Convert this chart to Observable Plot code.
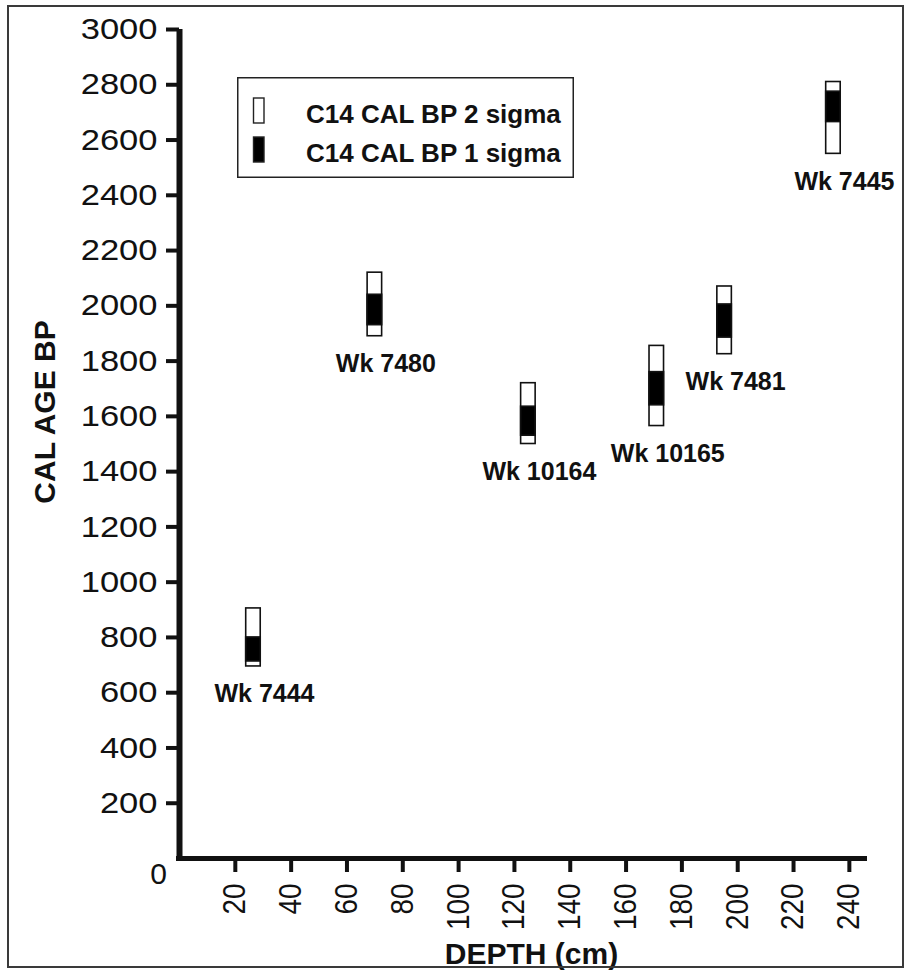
<!DOCTYPE html>
<html>
<head>
<meta charset="utf-8">
<script src="https://cdn.jsdelivr.net/npm/d3@7"></script>
<script src="https://cdn.jsdelivr.net/npm/@observablehq/plot@0.6"></script>
<style>
  html, body { margin: 0; padding: 0; background: #fff; }
  #wrap { position: relative; width: 907px; height: 973px; overflow: hidden; font-family: "Liberation Sans", Arial, sans-serif; }
  #frame { position: absolute; left: 7px; top: 5px; width: 897px; height: 963px; border: 2px solid #3a3a3a; box-sizing: border-box; pointer-events: none; }
  #legend { position: absolute; left: 237px; top: 77px; }
</style>
</head>
<body>
<div id="wrap"><div id="frame"></div></div>
<script>
// ---- data ----
const samples   = ["Wk 7444", "Wk 7480", "Wk 10164", "Wk 10165", "Wk 7481", "Wk 7445"];
const depthCm   = [26.5, 70, 125, 171, 195.3, 234.3];
const sigma2Low  = [695, 1890, 1500, 1565, 1825, 2550];
const sigma2High = [905, 2120, 1720, 1855, 2070, 2810];
const sigma1Low  = [713, 1930, 1530, 1640, 1885, 2665];
const sigma1High = [800, 2040, 1635, 1760, 2005, 2775];

const xTicks = [20, 40, 60, 80, 100, 120, 140, 160, 180, 200, 220, 240];
const yTicks = [0, 200, 400, 600, 800, 1000, 1200, 1400, 1600, 1800, 2000, 2200, 2400, 2600, 2800, 3000];
const xTitle = "DEPTH (cm)";
const yTitle = "CAL AGE BP";
const legendLabels = ["C14 CAL BP 2 sigma", "C14 CAL BP 1 sigma"];
const legendFills  = ["white", "black"];

const rows = samples.map((name, i) => ({
  name, depth: depthCm[i],
  lo2: sigma2Low[i], hi2: sigma2High[i],
  lo1: sigma1Low[i], hi1: sigma1High[i]
}));

const ink = "#111";
const halfW = 2.6; // half bar width in depth units

const chart = Plot.plot({
  width: 907,
  height: 973,
  marginLeft: 179,
  marginRight: 40,
  marginTop: 29,
  marginBottom: 115,
  style: { fontFamily: "'Liberation Sans', Arial, sans-serif", background: "transparent", color: ink },
  x: { domain: [0, 246.5] },
  y: { domain: [0, 3000] },
  marks: [
    Plot.axisX(xTicks, { tickSize: 14, tickPadding: 11, tickRotate: -90, tickFormat: d => String(d), fontSize: 31, strokeWidth: 4, stroke: ink, fill: ink, label: null }),
    Plot.axisY(yTicks.filter(v => v > 0), { tickSize: 13, tickPadding: 9, tickFormat: d => String(d), fontSize: 30, strokeWidth: 4, stroke: ink, fill: ink, label: null }),
    Plot.text(yTicks.filter(v => v === 0), { x: 0, y: d => d, text: d => String(d), dx: -21, dy: 16, fontSize: 30, fill: ink }),
    Plot.ruleX([0], { stroke: ink, strokeWidth: 6, insetBottom: -3 }),
    Plot.ruleY([0], { stroke: ink, strokeWidth: 5, insetLeft: -3 }),
    Plot.rect(rows, { x1: d => d.depth - halfW, x2: d => d.depth + halfW, y1: "lo2", y2: "hi2", fill: "white", stroke: ink, strokeWidth: 1.6 }),
    Plot.rect(rows, { x1: d => d.depth - halfW, x2: d => d.depth + halfW, y1: "lo1", y2: "hi1", fill: "black", stroke: ink, strokeWidth: 1.6 }),
    Plot.text(rows, { x: "depth", y: "lo2", text: "name", dx: 11, dy: 18, lineAnchor: "top", fontSize: 25, fontWeight: "bold", fill: ink }),
    Plot.text([yTitle], { frameAnchor: "left", textAnchor: "middle", lineAnchor: "middle", dx: -134, dy: -32, rotate: -90, fontSize: 30, fontWeight: "bold", fill: ink }),
    Plot.text([xTitle], { frameAnchor: "bottom", textAnchor: "middle", lineAnchor: "middle", dx: 8, dy: 96, fontSize: 30, fontWeight: "bold", fill: ink })
  ]
});

const wrap = document.getElementById("wrap");
wrap.insertBefore(chart, wrap.firstChild);

// the reference's tick glyphs are wider than tall: stretch y labels, compress rotated x labels along their length
d3.select(chart).selectAll('g[aria-label="y-axis tick label"] text').each(function () {
  const len = this.getComputedTextLength();
  this.setAttribute("textLength", (len * 1.15).toFixed(1));
  this.setAttribute("lengthAdjust", "spacingAndGlyphs");
});
d3.select(chart).selectAll('g[aria-label="x-axis tick label"] text').each(function () {
  const len = this.getComputedTextLength();
  this.setAttribute("textLength", (len * 0.9).toFixed(1));
  this.setAttribute("lengthAdjust", "spacingAndGlyphs");
});

// legend box inside the plot area
const lg = d3.select(wrap).append("svg")
  .attr("id", "legend")
  .attr("width", 337).attr("height", 101)
  .style("font-family", "'Liberation Sans', Arial, sans-serif");
lg.append("rect").attr("x", 0.75).attr("y", 0.75).attr("width", 335.5).attr("height", 99.5)
  .attr("fill", "white").attr("stroke", "#222").attr("stroke-width", 1.5);
legendLabels.forEach((lab, i) => {
  const g = lg.append("g").attr("transform", `translate(0,${21 + i * 39})`);
  g.append("rect").attr("x", 16.5).attr("y", 0).attr("width", 10.5).attr("height", 25)
    .attr("fill", legendFills[i]).attr("stroke", "#222").attr("stroke-width", 1.4);
  g.append("text").attr("x", 69).attr("y", 25).attr("font-size", 26).attr("font-weight", "bold")
    .attr("fill", ink).text(lab);
});
</script>
</body>
</html>
